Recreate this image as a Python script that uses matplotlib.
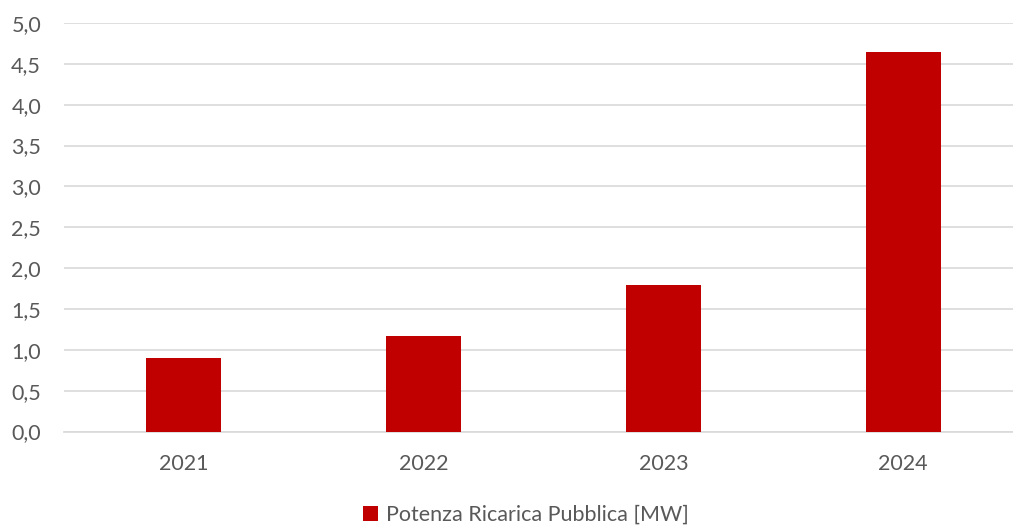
import matplotlib
matplotlib.use("Agg")
import matplotlib.pyplot as plt
from matplotlib.ticker import FuncFormatter, MultipleLocator

years = ["2021", "2022", "2023", "2024"]
potenza = [0.9, 1.17, 1.79, 4.64]
series_name = "Potenza Ricarica Pubblica [MW]"

plt.rcParams["font.family"] = ["Lato", "DejaVu Sans"]
text_col = "#595959"
bar_col = "#c00000"

fig = plt.figure(figsize=(10.13, 5.28), dpi=100)
# axes spans x 64..1023 px (right side cropped), y 23..431.5 px
ax = fig.add_axes([64 / 1013, (528 - 431.5) / 528, (1023 - 64) / 1013, (431.5 - 23) / 528])

x = range(len(years))
ax.bar(x, potenza, width=0.313, color=bar_col, label=series_name, zorder=3)

ax.set_xlim(-0.5, len(years) - 0.5)
ax.set_ylim(0, 5.0)
ax.yaxis.set_major_locator(MultipleLocator(0.5))
ax.yaxis.set_major_formatter(FuncFormatter(lambda v, p: f"{v:.1f}".replace(".", ",")))
ax.set_xticks(list(x))
ax.set_xticklabels(years)

ax.grid(axis="y", color="#d9d9d9", linewidth=1.2, zorder=0)
ax.set_axisbelow(True)
for s in ["top", "right", "left"]:
    ax.spines[s].set_visible(False)
ax.spines["bottom"].set_color("#d9d9d9")
ax.spines["bottom"].set_linewidth(1.2)
ax.tick_params(axis="both", length=0, labelsize=15.5, labelcolor=text_col)
ax.tick_params(axis="y", pad=16.5)
ax.tick_params(axis="x", pad=16)

fig.legend(loc="center", bbox_to_anchor=(526 / 1013, 1 - 515 / 528), frameon=False,
           fontsize=15.5, labelcolor=text_col, handlelength=0.7, handleheight=0.7,
           handletextpad=0.4)

fig.savefig("out.png", dpi=100)
